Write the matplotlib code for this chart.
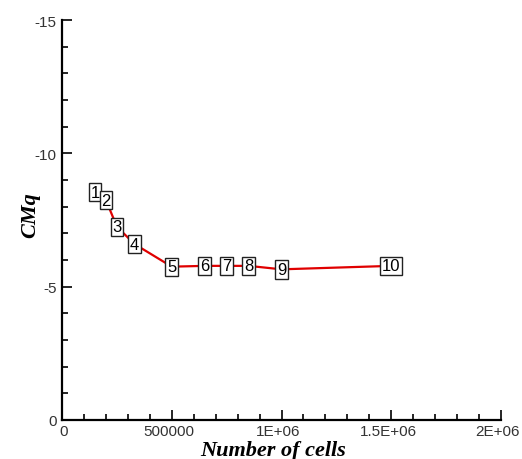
import numpy as np
import matplotlib.pyplot as plt
from matplotlib.ticker import MultipleLocator, FixedLocator, FixedFormatter
from matplotlib.transforms import ScaledTranslation

cells = [150000, 200000, 250000, 330000, 500000, 650000, 750000, 850000, 1000000, 1500000]
cmq = [-8.55, -8.25, -7.25, -6.6, -5.75, -5.78, -5.78, -5.78, -5.65, -5.78]
labels = ['1', '2', '3', '4', '5', '6', '7', '8', '9', '10']

xticks = [0, 500000, 1000000, 1500000, 2000000]
xticklabels = ['0', '500000', '1E+06', '1.5E+06', '2E+06']
yticks = [0, -5, -10, -15]
yticklabels = ['0', '-5', '-10', '-15']

fig = plt.figure(figsize=(5.22, 4.60), dpi=100)
ax = fig.add_axes([62 / 522, 39 / 460, 439 / 522, 400 / 460])

ax.plot(cells, cmq, color='#e00000', lw=1.6, zorder=2)
for x, y, s in zip(cells, cmq, labels):
    ax.text(x, y, s, ha='center', va='center', fontsize=12,
            family='Liberation Sans', zorder=3,
            bbox=dict(boxstyle='square,pad=0.1', fc='white', ec='#222222', lw=1.0))

ax.set_xlim(0, 2000000)
ax.set_ylim(0, -15)
ax.xaxis.set_major_locator(FixedLocator(xticks))
ax.xaxis.set_major_formatter(FixedFormatter(xticklabels))
ax.xaxis.set_minor_locator(MultipleLocator(100000))
ax.yaxis.set_major_locator(FixedLocator(yticks))
ax.yaxis.set_major_formatter(FixedFormatter(yticklabels))
ax.yaxis.set_minor_locator(MultipleLocator(1))

for side in ['top', 'right']:
    ax.spines[side].set_visible(False)
for side in ['left', 'bottom']:
    ax.spines[side].set_linewidth(1.6)

ax.tick_params(which='both', direction='in', width=1.2)
ax.tick_params(which='major', length=7, labelsize=11)
ax.tick_params(axis='x', which='major', pad=3)
ax.tick_params(axis='y', which='major', pad=4)
ax.tick_params(which='minor', length=4)

# tick labels sit a little left of their ticks, except the zero
for i, t in enumerate(ax.get_xticklabels()):
    dx = 2 if i == 0 else -3
    t.set_transform(t.get_transform() + ScaledTranslation(dx / 100, 0, fig.dpi_scale_trans))
for t in ax.get_xticklabels() + ax.get_yticklabels():
    t.set_family('Liberation Sans')
    t.set_color('#333333')

ax.set_xlabel('Number of cells', family='Liberation Serif', fontsize=16,
              fontweight='bold', style='italic', va='center')
ax.set_ylabel('CMq', family='Liberation Serif', fontsize=16,
              fontweight='bold', style='italic', va='center')
ax.xaxis.set_label_coords(0.48, -0.076)
ax.yaxis.set_label_coords(-0.073, 0.515)

fig.savefig('out.png', dpi=100)
